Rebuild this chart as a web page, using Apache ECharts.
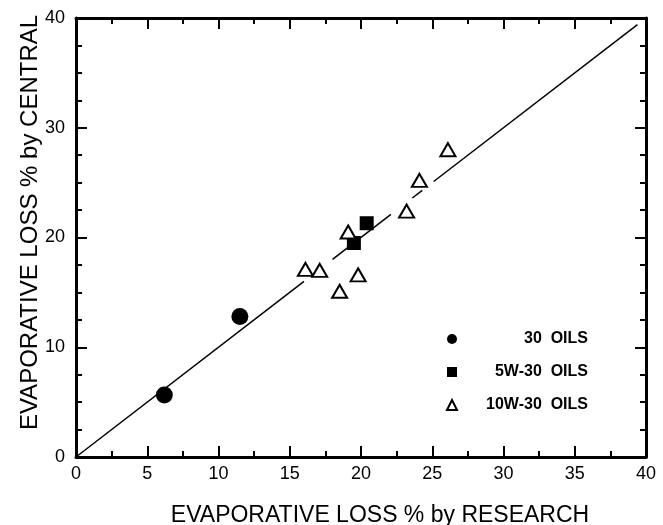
<!DOCTYPE html>
<html>
<head>
<meta charset="utf-8">
<script src="https://cdn.jsdelivr.net/npm/echarts@6/dist/echarts.min.js"></script>
<style>
  html, body { margin: 0; padding: 0; background: #fff; }
  #chart { width: 663px; height: 525px; }
</style>
</head>
<body>
<div id="chart"></div>
<script>
  // points: [research, central]
  var oils30 = [[6.2, 5.65], [11.5, 12.8]]
  var oils5w30 = [[19.5, 19.5], [20.4, 21.3]]
  var oils10w30 = [
    [16.1, 17.1], [17.1, 17.0], [18.5, 15.1], [19.1, 20.5],
    [19.8, 16.6], [23.2, 22.4], [24.1, 25.2], [26.1, 28.0]
  ]
  // y = x line, broken where the scan lost it near the markers
  var fitSegments = [
    [[0, 0], [16.0, 16.0]],
    [[18.0, 18.0], [22.1, 22.1]],
    [[23.6, 23.6], [24.3, 24.3]],
    [[25.1, 25.1], [39.4, 39.4]]
  ]
  var seriesNames = ['30  OILS', '5W-30  OILS', '10W-30  OILS']

  var font = 'Liberation Sans, Arial, sans-serif'

  var chart = echarts.init(document.getElementById('chart'))

  var lineSeries = fitSegments.map(function (seg) {
    return {
      type: 'line',
      data: seg,
      symbol: 'none',
      silent: true,
      z: 1,
      lineStyle: { color: '#000', width: 1.5 }
    }
  })

  function frameAxis (pos, isX, showLabel) {
    return {
      type: 'value',
      position: pos,
      min: 0,
      max: 40,
      interval: isX ? 5 : 10,
      axisLine: { show: true, onZero: false, lineStyle: { color: '#000', width: 3 } },
      axisTick: { show: true, inside: true, length: 11, lineStyle: { color: '#000', width: 2 } },
      minorTick: { show: true, splitNumber: isX ? 2 : 4, length: 6, lineStyle: { color: '#000', width: 2 } },
      splitLine: { show: false },
      minorSplitLine: { show: false },
      axisLabel: {
        show: showLabel,
        color: '#000',
        fontFamily: font,
        fontSize: 18,
        margin: isX ? 8 : 11
      }
    }
  }

  var xBottom = frameAxis('bottom', true, true)
  xBottom.name = 'EVAPORATIVE LOSS % by RESEARCH'
  xBottom.nameLocation = 'middle'
  xBottom.nameGap = 47
  xBottom.nameTextStyle = { color: '#000', fontFamily: font, fontSize: 23, padding: [0, 0, 0, 38] }

  var yLeft = frameAxis('left', false, true)
  yLeft.name = 'EVAPORATIVE LOSS % by CENTRAL'
  yLeft.nameLocation = 'middle'
  yLeft.nameGap = 34
  yLeft.nameMoveOverlap = false
  yLeft.nameTextStyle = { color: '#000', fontFamily: font, fontSize: 24, padding: [0, 0, 0, 30] }

  chart.setOption({
    backgroundColor: '#fff',
    animation: false,
    grid: { left: 76, right: 17, top: 18, bottom: 68, outerBoundsMode: 'none' },
    xAxis: [xBottom, frameAxis('top', true, false)],
    yAxis: [yLeft, frameAxis('right', false, false)],
    legend: {
      orient: 'vertical',
      left: 441,
      top: 326,
      itemGap: 17,
      itemWidth: 10,
      itemHeight: 10,
      data: [
        { name: seriesNames[0], icon: 'circle' },
        { name: seriesNames[1], icon: 'rect' },
        { name: seriesNames[2], icon: 'triangle' }
      ],
      formatter: function (name) {
        return '{t|' + name + '}'
      },
      textStyle: {
        rich: {
          t: {
            color: '#000',
            fontFamily: font,
            fontSize: 16,
            fontWeight: 'bold',
            width: 126,
            align: 'right'
          }
        }
      }
    },
    series: lineSeries.concat([
      {
        name: seriesNames[0],
        type: 'scatter',
        data: oils30,
        symbol: 'circle',
        symbolSize: 17,
        z: 3,
        itemStyle: { color: '#000', opacity: 1 }
      },
      {
        name: seriesNames[1],
        type: 'scatter',
        data: oils5w30,
        symbol: 'rect',
        symbolSize: 14,
        z: 3,
        itemStyle: { color: '#000', opacity: 1 }
      },
      {
        name: seriesNames[2],
        type: 'scatter',
        data: oils10w30,
        symbol: 'triangle',
        symbolSize: [15, 13],
        z: 3,
        itemStyle: { color: '#fff', borderColor: '#000', borderWidth: 2, opacity: 1 }
      }
    ])
  })
</script>
</body>
</html>
